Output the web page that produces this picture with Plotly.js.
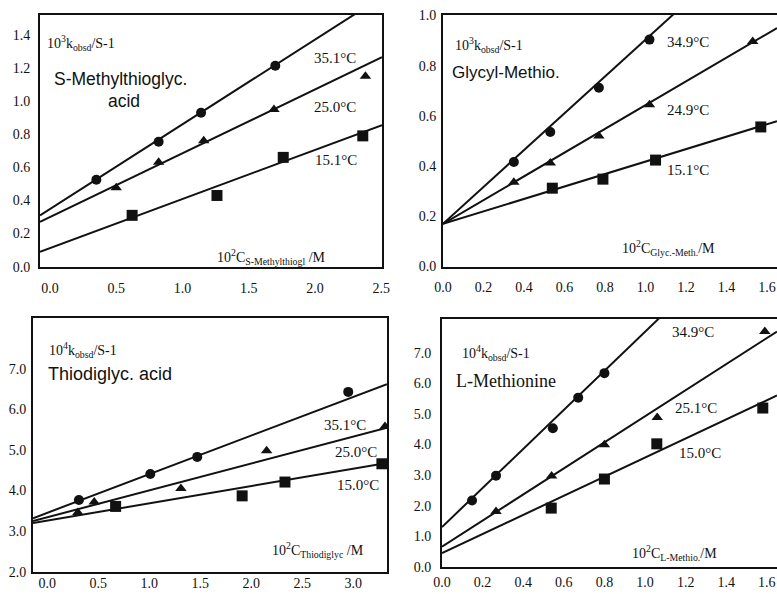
<!DOCTYPE html>
<html><head><meta charset="utf-8">
<script src="https://cdn.plot.ly/plotly-3.0.1.min.js"></script>
<style>html,body{margin:0;padding:0;background:#fff}#chart{width:777px;height:594px}</style>
</head><body><div id="chart"></div>
<script>
// ---------- Panel A : S-Methylthioglycolic acid ----------
const aX35 = [0.35, 0.82, 1.14, 1.70];
const aY35 = [0.525, 0.754, 0.93, 1.213];
const aX25 = [0.50, 0.82, 1.16, 1.69, 2.38];
const aY25 = [0.477, 0.63, 0.76, 0.95, 1.15];
const aX15 = [0.62, 1.26, 1.76, 2.36];
const aY15 = [0.31, 0.43, 0.66, 0.79];
const aFitX = [-0.075, 2.505];
const aFit35 = [0.31, 1.63];
const aFit25 = [0.27, 1.265];
const aFit15 = [0.09, 0.855];
const aXTicks = [0, 0.5, 1.0, 1.5, 2.0, 2.5];
const aYTicks = [0, 0.2, 0.4, 0.6, 0.8, 1.0, 1.2, 1.4];

// ---------- Panel B : Glycyl-Methionine ----------
const bX35 = [0.35, 0.53, 0.77, 1.02];
const bY35 = [0.416, 0.536, 0.712, 0.904];
const bX25 = [0.35, 0.53, 0.77, 1.02, 1.53];
const bY25 = [0.336, 0.412, 0.52, 0.644, 0.896];
const bX15 = [0.54, 0.79, 1.05, 1.57];
const bY15 = [0.312, 0.348, 0.424, 0.556];
const bFitX = [0, 1.65];
const bFit35 = [0.17, 1.38];
const bFit25 = [0.17, 0.95];
const bFit15 = [0.17, 0.579];
const bXTicks = [0, 0.2, 0.4, 0.6, 0.8, 1.0, 1.2, 1.4, 1.6];
const bYTicks = [0, 0.2, 0.4, 0.6, 0.8, 1.0];

// ---------- Panel C : Thiodiglycolic acid ----------
const cX35 = [0.31, 1.01, 1.47, 2.95];
const cY35 = [3.77, 4.41, 4.83, 6.43];
const cX25 = [0.30, 0.46, 1.31, 2.15, 3.31];
const cY25 = [3.46, 3.72, 4.05, 4.98, 5.58];
const cX15 = [0.67, 1.91, 2.33, 3.28];
const cY15 = [3.61, 3.87, 4.21, 4.66];
const cFitX = [-0.14, 3.33];
const cFit35 = [3.32, 6.62];
const cFit25 = [3.25, 5.55];
const cFit15 = [3.2, 4.68];
const cXTicks = [0, 0.5, 1.0, 1.5, 2.0, 2.5, 3.0];
const cYTicks = [2, 3, 4, 5, 6, 7];

// ---------- Panel D : L-Methionine ----------
const dX35 = [0.148, 0.266, 0.546, 0.671, 0.80];
const dY35 = [2.17, 2.98, 4.53, 5.53, 6.33];
const dX25 = [0.266, 0.54, 0.80, 1.06, 1.59];
const dY25 = [1.81, 2.97, 3.99, 4.88, 7.69];
const dX15 = [0.538, 0.80, 1.058, 1.58];
const dY15 = [1.92, 2.87, 4.02, 5.19];
const dFitX = [0, 1.65];
const dFit35 = [1.3, 11.83];
const dFit25 = [0.66, 7.69];
const dFit15 = [0.45, 5.6];
const dXTicks = [0, 0.2, 0.4, 0.6, 0.8, 1.0, 1.2, 1.4, 1.6];
const dYTicks = [0, 1, 2, 3, 4, 5, 6, 7];

const INK = '#111';
const SERIF = 'Liberation Serif, Times New Roman, serif';
const SANS = 'Liberation Sans, Arial, sans-serif';
const W = 777, H = 594;

function pts(x, y, ax, sym, size) {
  return {x: x, y: y, xaxis: ax[0], yaxis: ax[1], type: 'scatter', mode: 'markers',
    marker: {symbol: sym, size: size, color: INK}, showlegend: false, hoverinfo: 'skip', cliponaxis: true};
}
function fit(x, y, ax) {
  return {x: x, y: y, xaxis: ax[0], yaxis: ax[1], type: 'scatter', mode: 'lines',
    line: {color: INK, width: 2}, showlegend: false, hoverinfo: 'skip'};
}
const A = ['x', 'y'], B = ['x2', 'y2'], C = ['x3', 'y3'], D = ['x4', 'y4'];
const data = [
  fit(aFitX, aFit35, A), fit(aFitX, aFit25, A), fit(aFitX, aFit15, A),
  pts(aX35, aY35, A, 'circle', 10), pts(aX25, aY25, A, 'triangle-up', 10), pts(aX15, aY15, A, 'square', 11),
  fit(bFitX, bFit35, B), fit(bFitX, bFit25, B), fit(bFitX, bFit15, B),
  pts(bX35, bY35, B, 'circle', 10), pts(bX25, bY25, B, 'triangle-up', 10), pts(bX15, bY15, B, 'square', 11),
  fit(cFitX, cFit35, C), fit(cFitX, cFit25, C), fit(cFitX, cFit15, C),
  pts(cX35, cY35, C, 'circle', 10), pts(cX25, cY25, C, 'triangle-up', 10), pts(cX15, cY15, C, 'square', 11),
  fit(dFitX, dFit35, D), fit(dFitX, dFit25, D), fit(dFitX, dFit15, D),
  pts(dX35, dY35, D, 'circle', 10), pts(dX25, dY25, D, 'triangle-up', 10), pts(dX15, dY15, D, 'square', 11)
];

function xax(l, r, range, ticks, anchor, standoff) {
  return {domain: [l / W, r / W], range: range, anchor: anchor, tickvals: ticks, tickformat: '.1f',
    showgrid: false, zeroline: false, showline: true, linewidth: 2, linecolor: INK, mirror: true,
    ticks: '', ticklabelstandoff: standoff, ticklabeloverflow: 'allow',
    tickfont: {family: SERIF, size: 14, color: INK}, fixedrange: true};
}
function yax(top, bot, range, ticks, anchor, mirror, standoff) {
  return {domain: [1 - bot / H, 1 - top / H], range: range, anchor: anchor, tickvals: ticks, tickformat: '.1f',
    showgrid: false, zeroline: false, showline: true, linewidth: 2, linecolor: INK, mirror: mirror,
    ticks: '', ticklabelstandoff: standoff, ticklabeloverflow: 'allow',
    tickfont: {family: SERIF, size: 14, color: INK}, fixedrange: true};
}

function ann(text, x, y, size, fam, anchor) {
  return {text: text, xref: 'paper', yref: 'paper', x: x / W, y: 1 - y / H, xanchor: anchor || 'left',
    yanchor: 'middle', showarrow: false, font: {family: fam || SERIF, size: size, color: INK}};
}

const layout = {
  width: W, height: H, margin: {l: 0, r: 0, t: 0, b: 0}, paper_bgcolor: '#fff', plot_bgcolor: '#fff',
  showlegend: false,
  xaxis: xax(40, 382, aFitX, aXTicks, 'y', 7),
  yaxis: yax(15, 267, [-0.002, 1.52], aYTicks, 'x', true, 5),
  xaxis2: xax(443, 777, bFitX, bXTicks, 'y2', 6),
  yaxis2: yax(15, 267, [-0.002, 1.002], bYTicks, 'x2', false, 2),
  xaxis3: xax(33, 387, cFitX, cXTicks, 'y3', -3),
  yaxis3: yax(318, 572, [1.995, 8.25], cYTicks, 'x3', true, 2),
  xaxis4: xax(442, 777, dFitX, dXTicks, 'y4', 1),
  yaxis4: yax(319, 567, [-0.005, 8.1], dYTicks, 'x4', false, 6),
  annotations: [
    // panel A
    ann('10<sup>3</sup>k<sub>obsd</sub>/S-1', 45, 43, 14),
    ann('S-Methylthioglyc.', 52, 79, 17.5, SANS),
    ann('acid', 124, 101, 17.5, SANS, 'center'),
    ann('35.1°C', 312, 58, 15),
    ann('25.0°C', 312, 107, 15),
    ann('15.1°C', 313, 160, 15),
    ann('10<sup>2</sup>C<sub>S-Methylthiogl</sub> /M', 215, 257, 14),
    // panel B
    ann('10<sup>3</sup>k<sub>obsd</sub>/S-1', 453, 45, 14),
    ann('Glycyl-Methio.', 450, 72, 17, SANS),
    ann('34.9°C', 665, 42, 15),
    ann('24.9°C', 665, 110, 15),
    ann('15.1°C', 665, 170, 15),
    ann('10<sup>2</sup>C<sub>Glyc.-Meth.</sub>/M', 620, 248, 14),
    // panel C
    ann('10<sup>4</sup>k<sub>obsd</sub>/S-1', 47, 350, 14),
    ann('Thiodiglyc. acid', 46, 374, 18, SANS),
    ann('35.1°C', 322, 425, 15),
    ann('25.0°C', 333, 452, 15),
    ann('15.0°C', 335, 485, 15),
    ann('10<sup>2</sup>C<sub>Thiodiglyc</sub> /M', 270, 550, 14),
    // panel D
    ann('10<sup>4</sup>k<sub>obsd</sub>/S-1', 460, 353, 14),
    ann('L-Methionine', 454, 381, 18),
    ann('34.9°C', 670, 332, 15),
    ann('25.1°C', 673, 408, 15),
    ann('15.0°C', 677, 453, 15),
    ann('10<sup>2</sup>C<sub>L-Methio.</sub>/M', 630, 553, 14)
  ]
};

Plotly.newPlot('chart', data, layout, {displayModeBar: false, staticPlot: true});
</script>
</body></html>
